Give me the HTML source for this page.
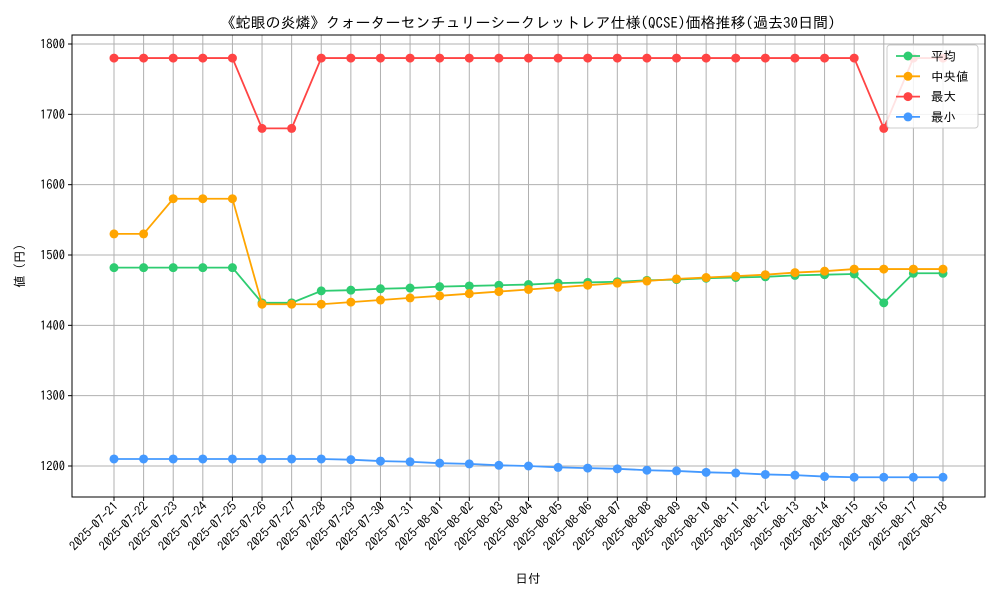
<!DOCTYPE html>
<html><head><meta charset="utf-8"><style>
body{margin:0;background:#fff}
svg{font-family:"IPAGothic","Noto Sans CJK JP",sans-serif}
</style></head><body>
<svg id="chart" width="1000" height="600" viewBox="0 0 1000 600" xmlns="http://www.w3.org/2000/svg">
<rect width="1000" height="600" fill="#fff"/>
<text x="528" y="28" font-size="15" text-anchor="middle">《蛇眼の炎燐》クォーターセンチュリーシークレットレア仕様(QCSE)価格推移(過去30日間)</text>
<g id="grid"></g>
<g id="series"></g>
<rect x="72" y="35" width="913" height="462" fill="none" stroke="#000" stroke-width="1"/>
<g id="axes"></g>
<text transform="translate(24,266) rotate(-90)" font-size="12.5" text-anchor="middle">値 (円)</text>
<text x="528" y="583" font-size="12.5" text-anchor="middle">日付</text>
<g id="legend"></g>
</svg>
<script>
const dates=["2025-07-21","2025-07-22","2025-07-23","2025-07-24","2025-07-25","2025-07-26","2025-07-27","2025-07-28","2025-07-29","2025-07-30","2025-07-31","2025-08-01","2025-08-02","2025-08-03","2025-08-04","2025-08-05","2025-08-06","2025-08-07","2025-08-08","2025-08-09","2025-08-10","2025-08-11","2025-08-12","2025-08-13","2025-08-14","2025-08-15","2025-08-16","2025-08-17","2025-08-18"];
const avgValues=[1482,1482,1482,1482,1482,1432,1432,1449,1450,1452,1453,1455,1456,1457,1458,1460,1461,1462,1464,1465,1467,1468,1469,1471,1472,1473,1432,1474,1474];
const medianValues=[1530,1530,1580,1580,1580,1430,1430,1430,1433,1436,1439,1442,1445,1448,1451,1454,1457,1460,1463,1466,1468,1470,1472,1475,1477,1480,1480,1480,1480];
const maxValues=[1780,1780,1780,1780,1780,1680,1680,1780,1780,1780,1780,1780,1780,1780,1780,1780,1780,1780,1780,1780,1780,1780,1780,1780,1780,1780,1680,1780,1780];
const minValues=[1210,1210,1210,1210,1210,1210,1210,1210,1209,1207,1206,1204,1203,1201,1200,1198,1197,1196,1194,1193,1191,1190,1188,1187,1185,1184,1184,1184,1184];
const yTicks=[1200,1300,1400,1500,1600,1700,1800];
const seriesNames=["平均","中央値","最大","最小"];
const seriesColors=["#2ecc71","#ffa500","#ff4444","#4499ff"];
const NS="http://www.w3.org/2000/svg";
const xS=i=>114+i*(943-114)/(dates.length-1);
const yS=v=>466-(v-1200)*(466-44)/600;
function mk(t,a,p){const e=document.createElementNS(NS,t);for(const k in a)e.setAttribute(k,a[k]);p.appendChild(e);return e;}
const grid=document.getElementById('grid'),axes=document.getElementById('axes'),ser=document.getElementById('series'),leg=document.getElementById('legend');
dates.forEach((d,i)=>{
 const g=mk('line',{x1:xS(i),x2:xS(i),y1:35,y2:497,stroke:'#b0b0b0','stroke-width':1},grid);
 
 
 mk('line',{x1:xS(i),x2:xS(i),y1:497,y2:501,stroke:'#000'},axes);
 const t=mk('text',{transform:`translate(${xS(i)+5},${507}) rotate(-45)`,'font-size':12.5,'text-anchor':'end'},axes);
 t.textContent=d;
 
 
});
yTicks.forEach(v=>{
 const g=mk('line',{x1:72,x2:985,y1:yS(v),y2:yS(v),stroke:'#b0b0b0','stroke-width':1},grid);
 
 
 mk('line',{x1:68,x2:72,y1:yS(v),y2:yS(v),stroke:'#000'},axes);
 const t=mk('text',{x:65,y:yS(v)+4.5,'font-size':12.5,'text-anchor':'end'},axes);
 t.textContent=v;
 
 
});
const all=[avgValues,medianValues,maxValues,minValues];
const keys=['average','median','max','min'];
all.forEach((vals,s)=>{
 const g=mk('g',{},ser);
 
 
 mk('polyline',{points:vals.map((v,i)=>xS(i)+','+yS(v)).join(' '),fill:'none',stroke:seriesColors[s],'stroke-width':1.8},g);
 vals.forEach((v,i)=>{
  const c=mk('circle',{cx:xS(i),cy:yS(v),r:4.5,fill:seriesColors[s]},g);
  
  
 });
});
mk('rect',{x:887,y:45,width:91,height:83,rx:3,fill:'#fff','fill-opacity':0.85,stroke:'#ccc'},leg);
seriesNames.forEach((n,s)=>{
 const y=56+s*20.3;
 const e=mk('g',{},leg);
 
 
 mk('line',{x1:896,x2:920,y1:y,y2:y,stroke:seriesColors[s],'stroke-width':1.8},e);
 mk('circle',{cx:908,cy:y,r:4.5,fill:seriesColors[s]},e);
 const t=mk('text',{x:931,y:y+4.5,'font-size':12.5},e);t.textContent=n;
});
</script>
</body></html>
